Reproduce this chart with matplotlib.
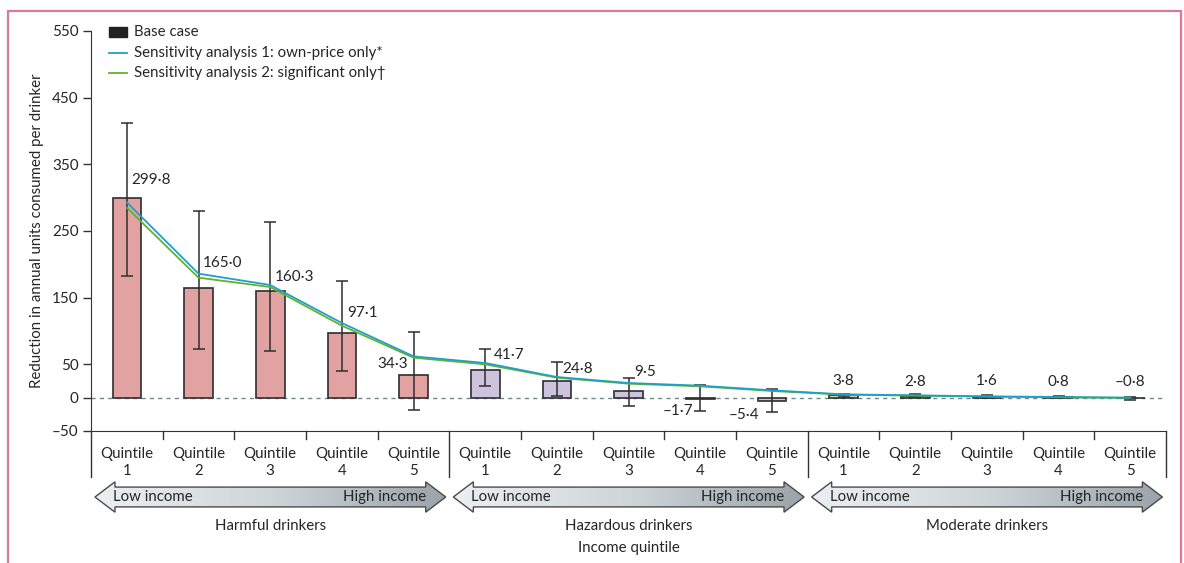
"""Reduction in consumption by drinker group and income quintile."""

import matplotlib
matplotlib.use("Agg")
import matplotlib.pyplot as plt
import numpy as np
from matplotlib.colors import LinearSegmentedColormap
from matplotlib.patches import Polygon, Rectangle

plt.rcParams["font.family"] = ["Lato", "DejaVu Sans"]
plt.rcParams["font.size"] = 10.8

groups = ["Harmful drinkers", "Hazardous drinkers", "Moderate drinkers"]
quintiles = ["1", "2", "3", "4", "5"]

base_case = [299.8, 165.0, 160.3, 97.1, 34.3,
             41.7, 24.8, 9.5, -1.7, -5.4,
             3.8, 2.8, 1.6, 0.8, -0.8]
ci_low = [182, 73, 70, 40, -18,
          18, 2, -12, -20, -21,
          1.5, 1.0, -0.5, -1.0, -3.0]
ci_high = [412, 280, 264, 175, 99,
           73, 54, 30, 19, 13,
           6.0, 5.0, 3.5, 2.5, 1.5]
sens_own_price = [293, 186, 169, 112, 62,
                  52, 31, 22, 18, 11,
                  5, 3.5, 2, 1, 0]
sens_significant = [285, 180, 166, 108, 60,
                    50, 30, 21, 17, 10,
                    4.5, 3, 1.5, 0.5, -0.3]

value_labels = ["299·8", "165·0", "160·3", "97·1", "34·3",
                "41·7", "24·8", "9·5", "–1·7", "–5·4",
                "3·8", "2·8", "1·6", "0·8", "–0·8"]

yticks = [-50, 0, 50, 150, 250, 350, 450, 550]

# label placement (offset in points from bar value, alignment)
label_dx = [3, 3, 3, 4, -4, 6, 4, 4, -5, -9, 0, 0, 0, 0, 0]
label_dy = [13, 18, 10, 14, 8, 11, 9, 14, -9, -10, 10, 10, 11, 11, 12]
label_ha = ["left", "left", "left", "left", "right",
            "left", "left", "left", "right", "right",
            "center", "center", "center", "center", "center"]

bar_colors = ["#e3a2a2", "#cec3df", "#c9dcb5"]
edge = "#2e2e2e"
txt = "#262626"

W, H = 1184, 563
fig = plt.figure(figsize=(W / 100, H / 100), dpi=100)
fig.patch.set_facecolor("white")

# pink frame, open at the bottom
fig.add_artist(Rectangle((8 / W, -0.05), 1173 / W, 1.05 - 11 / H,
                         transform=fig.transFigure, fill=False,
                         edgecolor="#d97a98", linewidth=1.6))

ax = fig.add_axes([91 / W, (H - 431) / H, 1075 / W, 400 / H])
x = np.arange(len(base_case))
n_q = len(quintiles)
colors = [bar_colors[i // n_q] for i in x]

ax.axhline(0, color="#6d8896", lw=1.0, ls=(0, (3, 3)), zorder=1)
ax.bar(x, base_case, width=0.4, color=colors, edgecolor=edge,
       linewidth=1.2, zorder=2)
base = np.array(base_case)
yerr = [base - np.array(ci_low), np.array(ci_high) - base]
ax.errorbar(x, base, yerr=yerr, fmt="none", ecolor=edge, elinewidth=1.1,
            capsize=4, capthick=1.1, zorder=3)
ax.plot(x, sens_significant, color="#63b22f", lw=1.3, zorder=4)
ax.plot(x, sens_own_price, color="#1ea0c8", lw=1.3, zorder=5)

for i, lab in enumerate(value_labels):
    ax.annotate(lab, (x[i], base_case[i]), xytext=(label_dx[i], label_dy[i]),
                textcoords="offset points", ha=label_ha[i], va="center",
                color=txt, fontsize=11, zorder=6)

ax.set_xlim(-0.5, len(x) - 0.5)
ax.set_ylim(-50, 550)
ax.set_yticks(yticks)
ax.set_yticklabels([str(t).replace("-", "–") for t in yticks])
ax.tick_params(axis="y", direction="out", length=6, width=1, color="#333",
               labelcolor=txt, pad=3, labelsize=11)
ax.set_xticks([])
for s in ["top", "right"]:
    ax.spines[s].set_visible(False)
ax.spines["left"].set_color("#333")
ax.spines["bottom"].set_color("#333")
ax.set_ylabel("Reduction in annual units consumed per drinker",
              color=txt, labelpad=6)

# x-axis decorations below the axes
trans = ax.get_xaxis_transform()
px = 1 / 400  # one pixel in axes fraction
for b in np.arange(-0.5, len(x), 1.0):
    major = (b + 0.5) % n_q == 0
    depth = 46 if major else 8
    ax.plot([b, b], [0, -depth * px], transform=trans, color="#333",
            lw=1.0, clip_on=False)
for i in x:
    ax.text(i, -16 * px, "Quintile\n" + quintiles[i % n_q], transform=trans,
            ha="center", va="top", color=txt, linespacing=1.25)

for g, name in enumerate(groups):
    c = g * n_q + (n_q - 1) / 2
    ax.text(c, -95 * px, name, transform=trans, ha="center", va="center",
            color=txt)
ax.text((len(x) - 1) / 2, -117 * px, "Income quintile", transform=trans,
        ha="center", va="center", color=txt)

# gradient double arrows
ax_arr = fig.add_axes([91 / W, (H - 513) / H, 1075 / W, 32 / H])
ax_arr.set_xlim(-0.5, len(x) - 0.5)
ax_arr.set_ylim(-1, 1)
ax_arr.axis("off")
grad = np.linspace(0, 1, 256).reshape(1, -1)
cmap = LinearSegmentedColormap.from_list("arr", ["#eceff0", "#d0d5d8", "#9aa4aa"])
head, shaft = 0.28, 0.62
for g in range(len(groups)):
    x0 = g * n_q - 0.445
    x1 = g * n_q + 4.45
    pts = [(x0, 0), (x0 + head, 0.95), (x0 + head, shaft), (x1 - head, shaft),
           (x1 - head, 0.95), (x1, 0), (x1 - head, -0.95), (x1 - head, -shaft),
           (x0 + head, -shaft), (x0 + head, -0.95)]
    poly = Polygon(pts, closed=True, facecolor="none", edgecolor="#4a4a4a",
                   lw=1.0, zorder=3)
    ax_arr.add_patch(poly)
    im = ax_arr.imshow(grad, extent=[x0, x1, -1, 1], aspect="auto",
                       cmap=cmap, zorder=2)
    im.set_clip_path(poly)
    ax_arr.text(x0 + 0.25, 0, "Low income", ha="left", va="center",
                color=txt, zorder=4)
    ax_arr.text(x1 - 0.27, 0, "High income", ha="right", va="center",
                color=txt, zorder=4)

# legend
leg_ax = fig.add_axes([0, 0, 1, 1])
leg_ax.set_xlim(0, W)
leg_ax.set_ylim(H, 0)
leg_ax.axis("off")
entries = [("Base case", "box", "#222222"),
           ("Sensitivity analysis 1: own-price only*", "line", "#1ea0c8"),
           ("Sensitivity analysis 2: significant only†", "line", "#63b22f")]
for k, (lab, kind, col) in enumerate(entries):
    yy = 32 + 20.5 * k
    if kind == "box":
        leg_ax.add_patch(Rectangle((109, yy - 5), 18, 10, color=col))
    else:
        leg_ax.plot([109, 127], [yy, yy], color=col, lw=1.3)
    leg_ax.text(134, yy, lab, ha="left", va="center", color=txt)

fig.savefig("out.png", dpi=100, facecolor="white")
